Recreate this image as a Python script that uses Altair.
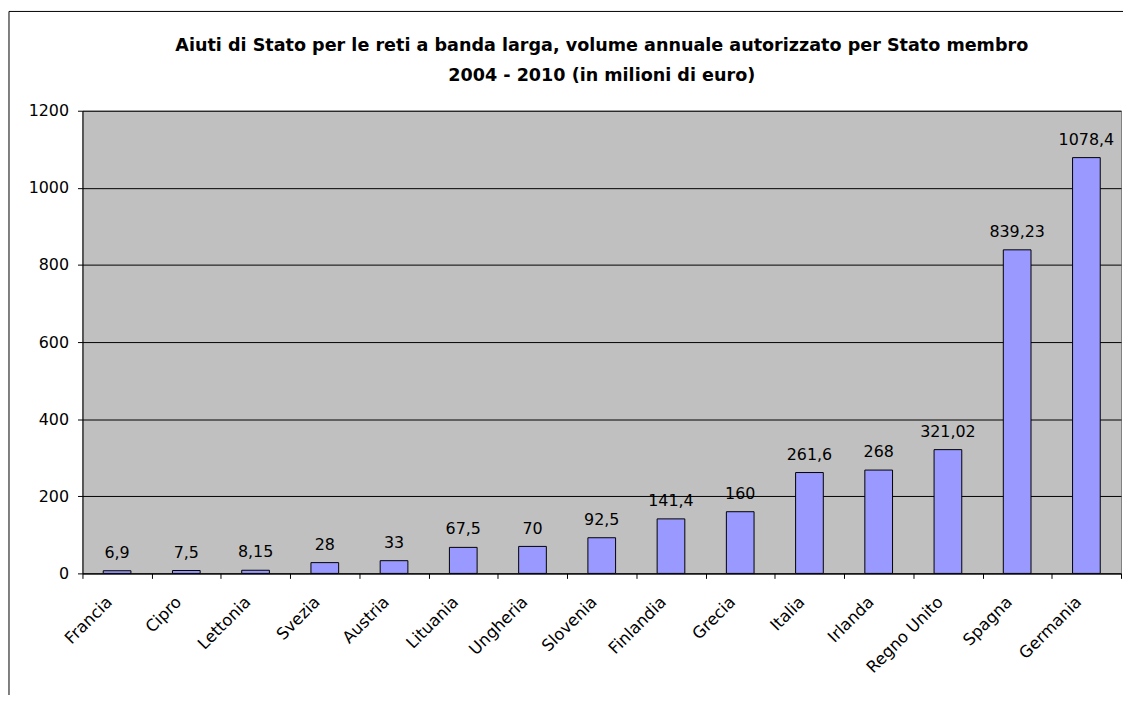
import altair as alt
import pandas as pd

countries = ["Francia", "Cipro", "Lettonia", "Svezia", "Austria", "Lituania", "Ungheria",
             "Slovenia", "Finlandia", "Grecia", "Italia", "Irlanda", "Regno Unito", "Spagna", "Germania"]
values = [6.9, 7.5, 8.15, 28, 33, 67.5, 70, 92.5, 141.4, 160, 261.6, 268, 321.02, 839.23, 1078.4]
labels = [str(v).replace(".", ",") for v in values]
title_lines = ["Aiuti di Stato per le reti a banda larga, volume annuale autorizzato per Stato membro",
               "2004 - 2010 (in milioni di euro)"]
y_ticks = [0, 200, 400, 600, 800, 1000, 1200]

df = pd.DataFrame({"paese": countries, "valore": values, "etichetta": labels})
title_df = pd.DataFrame({"t": [0]})

FONT = "DejaVu Sans"

x_enc = alt.X("paese:N", sort=countries, title=None,
              scale=alt.Scale(paddingInner=0, paddingOuter=0),
              axis=alt.Axis(labelAngle=-45, labelAlign="right", labelBaseline="middle",
                            labelPadding=21, labelOffset=-8, labelFontSize=16.5, labelFont=FONT,
                            labelColor="black", tickBand="extent", tickSize=5, tickColor="black",
                            domainColor="black", labelLimit=300))
y_enc = alt.Y("valore:Q", title=None,
              scale=alt.Scale(domain=[0, 1200], nice=False),
              axis=alt.Axis(values=y_ticks, format="d", labelFontSize=16, labelFont=FONT,
                            labelColor="black", labelPadding=9, tickSize=5, tickColor="black",
                            domainColor="black", grid=True, gridColor="black", gridOpacity=1,
                            gridWidth=1))

bars = alt.Chart(df).mark_bar(
    width=alt.RelativeBandSize(0.4), fill="#9999FF", stroke="black", strokeWidth=1
).encode(x=x_enc, y=y_enc)

text = alt.Chart(df).mark_text(
    baseline="alphabetic", dy=-13, fontSize=16, font=FONT, color="black"
).encode(x=alt.X("paese:N", sort=countries), y="valore:Q", text="etichetta:N")

title = alt.Chart(title_df).mark_text(
    text=title_lines, font=FONT, fontSize=17.7, fontWeight="bold", color="black",
    align="center", baseline="alphabetic", lineHeight=30
).encode(x=alt.value(523), y=alt.value(-60))

border = alt.Chart(title_df).mark_rect(filled=False, stroke="black", strokeWidth=1, clip=False).encode(
    x=alt.value(-74), x2=alt.value(1300), y=alt.value(-100), y2=alt.value(800)
)

chart = alt.layer(border, bars, text, title).properties(
    width=1046, height=466,
    autosize=alt.AutoSizeParams(type="none"),
    padding={"left": 75, "top": 101, "right": 2, "bottom": 120},
).configure(background="white").configure_view(fill="#C0C0C0", stroke="#808080", strokeWidth=1)

chart.save("out.html", embed_options={"renderer": "svg", "actions": False})
